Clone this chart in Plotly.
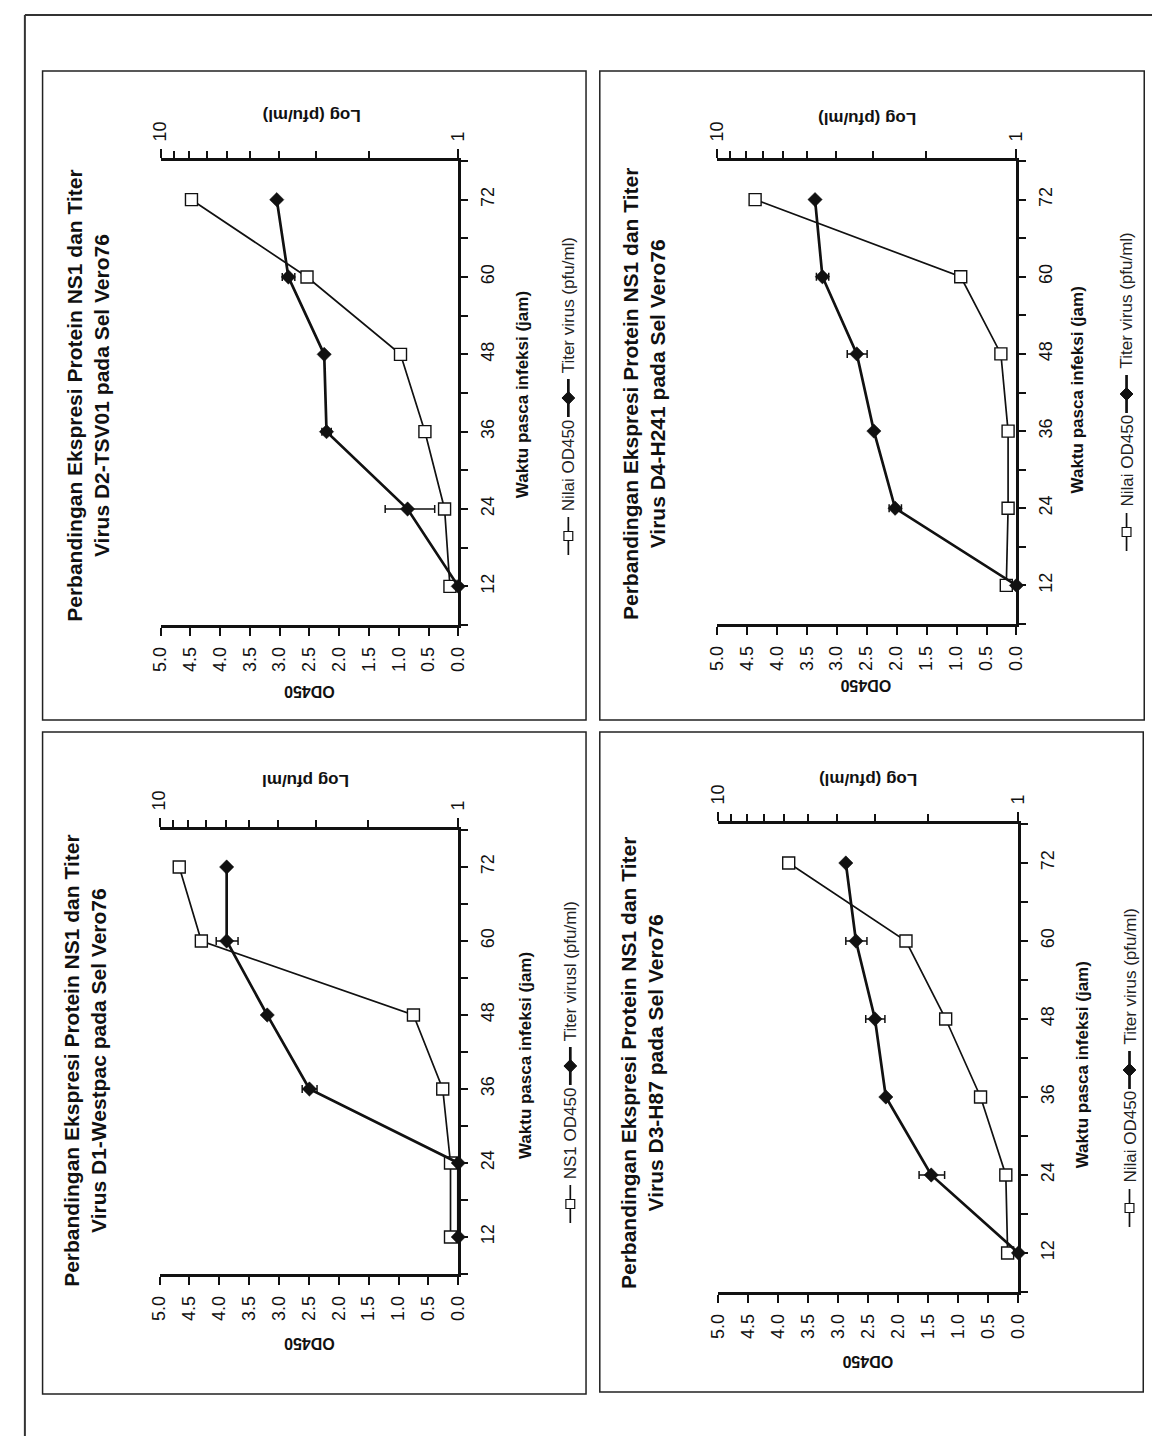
import plotly.graph_objects as go

W, H = 1160, 1436

# ---------------- data ----------------
times = [12, 24, 36, 48, 60, 72]
od_ticks = [0.0, 0.5, 1.0, 1.5, 2.0, 2.5, 3.0, 3.5, 4.0, 4.5, 5.0]
od_ticktext = ["0.0", "0.5", "1.0", "1.5", "2.0", "2.5", "3.0", "3.5", "4.0", "4.5", "5.0"]
time_ticks = [12, 24, 36, 48, 60, 72]
log_ticks = [1, 10]
log_ticktext = ["1", "10"]
log_minor = [2, 3, 4, 5, 6, 7, 8, 9]

titles = [
    "Perbandingan Ekspresi Protein NS1 dan Titer<br>Virus D2-TSV01 pada Sel Vero76",
    "Perbandingan Ekspresi Protein NS1 dan Titer<br>Virus D4-H241 pada Sel Vero76",
    "Perbandingan Ekspresi Protein NS1 dan Titer<br>Virus D1-Westpac pada Sel Vero76",
    "Perbandingan Ekspresi Protein NS1 dan Titer<br>Virus D3-H87 pada Sel Vero76",
]
ns1_names = ["Nilai OD450", "Nilai OD450", "NS1 OD450", "Nilai OD450"]
titer_names = ["Titer virus (pfu/ml)", "Titer virus (pfu/ml)", "Titer virusl (pfu/ml)", "Titer virus (pfu/ml)"]
log_titles = ["Log (pfu/ml)", "Log (pfu/ml)", "Log pfu/ml", "Log (pfu/ml)"]
x_title = "Waktu pasca infeksi (jam)"
od_title = "OD450"

ns1_d2 = [0.14, 0.23, 0.56, 0.97, 2.54, 4.48]
titer_d2 = [1.0, 1.48, 2.77, 2.82, 3.72, 4.07]
err_d2 = [0, 0.28, 0.10, 0, 0.18, 0]

ns1_d4 = [0.17, 0.14, 0.14, 0.26, 0.93, 4.36]
titer_d4 = [1.0, 2.54, 2.99, 3.41, 4.44, 4.70]
err_d4 = [0, 0.12, 0, 0.26, 0.21, 0]

ns1_d1 = [0.13, 0.13, 0.26, 0.75, 4.30, 4.67]
titer_d1 = [1.0, 1.0, 3.15, 4.36, 5.96, 5.96]
err_d1 = [0, 0, 0.18, 0, 0.50, 0]

ns1_d3 = [0.18, 0.21, 0.63, 1.21, 1.87, 3.82]
titer_d3 = [1.0, 1.95, 2.76, 3.00, 3.47, 3.75]
err_d3 = [0, 0.19, 0, 0.22, 0.28, 0]

ns1_all = [ns1_d2, ns1_d4, ns1_d1, ns1_d3]
titer_all = [titer_d2, titer_d4, titer_d1, titer_d3]
err_all = [err_d2, err_d4, err_d1, err_d3]

# ---------------- layout geometry (pixels) ----------------
geo = [
    dict(box=(25, 63, 578, 712), x0=145, x1=448, yt=153, yb=617, title=(71, 388), xt=(514, 387),
         odt=(296, 684), lgt=(299, 107), leg=(560, 547)),
    dict(box=(592, 63, 1146, 712), x0=711, x1=1016, yt=153, yb=616, title=(637, 386), xt=(1078, 382),
         odt=(863, 678), lgt=(864, 110), leg=(1128, 543)),
    dict(box=(25, 724, 578, 1386), x0=144, x1=448, yt=822, yb=1266, title=(68, 1053), xt=(516, 1048),
         odt=(296, 1336), lgt=(292, 773), leg=(562, 1215)),
    dict(box=(592, 724, 1145, 1384), x0=712, x1=1018, yt=816, yb=1284, title=(635, 1055), xt=(1083, 1057),
         odt=(865, 1354), lgt=(865, 772), leg=(1131, 1219)),
]

FONT = "Arial, Liberation Sans, sans-serif"


def px(x):
    return x / W


def py(y):
    return 1 - y / H


fig = go.Figure()
shapes = []
annotations = []
layout = {}

for i in range(4):
    g = geo[i]
    k = i + 1
    kl = i + 5
    xname = "x" if k == 1 else f"x{k}"
    yname = "y" if k == 1 else f"y{k}"
    xlname = f"x{kl}"

    fig.add_trace(go.Scatter(
        x=ns1_all[i], y=times, xaxis=xname, yaxis=yname, mode="lines+markers",
        line=dict(color="#111", width=1.7),
        marker=dict(symbol="square", size=12, color="white", line=dict(color="#111", width=1.4)),
        cliponaxis=False, showlegend=False, name=ns1_names[i]))
    fig.add_trace(go.Scatter(
        x=titer_all[i], y=times, xaxis=xlname, yaxis=yname, mode="lines+markers",
        line=dict(color="#111", width=2.7),
        marker=dict(symbol="diamond", size=11, color="#111", line=dict(color="#111", width=0.5)),
        error_x=dict(type="data", array=err_all[i], visible=True, thickness=1.5, width=4, color="#111"),
        cliponaxis=False, showlegend=False, name=titer_names[i]))

    common = dict(showgrid=False, zeroline=False, showline=True, linewidth=2.6, linecolor="#111",
                  ticks="outside", tickwidth=2.4, tickcolor="#111", fixedrange=True,
                  tickfont=dict(family=FONT, size=18, color="#111"))
    layout["xaxis" if k == 1 else f"xaxis{k}"] = dict(
        common, domain=[px(g["x0"]), px(g["x1"])], anchor=yname, range=[5, 0], side="bottom",
        tickmode="array", tickvals=od_ticks, ticktext=od_ticktext, tickangle=-90, ticklen=8,
        ticklabelstandoff=4)
    layout["yaxis" if k == 1 else f"yaxis{k}"] = dict(
        common, domain=[py(g["yb"]), py(g["yt"])], anchor=xname, side="right", range=[6, 78],
        tickmode="array", tickvals=time_ticks, tickangle=-90, ticklen=7,
        minor=dict(tickmode="linear", tick0=6, dtick=12, ticks="outside", ticklen=7, tickwidth=2.4,
                   tickcolor="#111"),
        ticklabelstandoff=4)
    layout[f"xaxis{kl}"] = dict(
        common, overlaying=xname, anchor=yname, side="top", type="log", range=[1, 0],
        tickmode="array", tickvals=log_ticks, ticktext=log_ticktext, tickangle=-90, ticklen=9,
        minor=dict(tickmode="array", tickvals=log_minor, ticks="outside", ticklen=7, tickwidth=2.4,
                   tickcolor="#111"),
        ticklabelstandoff=4)

    # panel box
    bx0, by0, bx1, by1 = g["box"]
    shapes.append(dict(type="rect", xref="paper", yref="paper", x0=px(bx0), x1=px(bx1), y0=py(by1), y1=py(by0),
                       line=dict(color="#222", width=1.5), layer="above"))

    # texts
    annotations.append(dict(text=f"<b>{titles[i]}</b>", x=px(g["title"][0]), y=py(g["title"][1]),
                            xref="paper", yref="paper", showarrow=False, textangle=-90,
                            xanchor="center", yanchor="middle",
                            font=dict(family=FONT, size=21, color="#111")))
    annotations.append(dict(text=f"<b>{x_title}</b>", x=px(g["xt"][0]), y=py(g["xt"][1]),
                            xref="paper", yref="paper", showarrow=False, textangle=-90,
                            xanchor="center", yanchor="middle",
                            font=dict(family=FONT, size=17, color="#111")))
    annotations.append(dict(text=f"<b>{od_title}</b>", x=px(g["odt"][0]), y=py(g["odt"][1]),
                            xref="paper", yref="paper", showarrow=False, textangle=180,
                            xanchor="center", yanchor="middle",
                            font=dict(family=FONT, size=16, color="#111")))
    annotations.append(dict(text=f"<b>{log_titles[i]}</b>", x=px(g["lgt"][0]), y=py(g["lgt"][1]),
                            xref="paper", yref="paper", showarrow=False, textangle=180,
                            xanchor="center", yanchor="middle",
                            font=dict(family=FONT, size=17, color="#111")))

    # legend (drawn rotated)
    lx, lb = g["leg"]
    shapes.append(dict(type="line", xref="paper", yref="paper", x0=px(lx), x1=px(lx), y0=py(lb), y1=py(lb - 38),
                       line=dict(color="#111", width=1.7)))
    s = 4.5
    shapes.append(dict(type="rect", xref="paper", yref="paper", x0=px(lx - s), x1=px(lx + s),
                       y0=py(lb - 19 + s), y1=py(lb - 19 - s), fillcolor="white",
                       line=dict(color="#111", width=1.2)))
    annotations.append(dict(text=ns1_names[i], x=px(lx), y=py(lb - 42), xref="paper", yref="paper",
                            showarrow=False, textangle=-90, xanchor="center", yanchor="bottom",
                            font=dict(family=FONT, size=17, color="#222")))
    s2 = lb - 138
    shapes.append(dict(type="line", xref="paper", yref="paper", x0=px(lx), x1=px(lx), y0=py(s2), y1=py(s2 - 38),
                       line=dict(color="#111", width=2.7)))
    d = 6.5
    cy = s2 - 19
    path = (f"M {px(lx)} {py(cy - d)} L {px(lx + d)} {py(cy)} L {px(lx)} {py(cy + d)} "
            f"L {px(lx - d)} {py(cy)} Z")
    shapes.append(dict(type="path", xref="paper", yref="paper", path=path, fillcolor="#111",
                       line=dict(color="#111", width=1)))
    annotations.append(dict(text=titer_names[i], x=px(lx), y=py(s2 - 42), xref="paper", yref="paper",
                            showarrow=False, textangle=-90, xanchor="center", yanchor="bottom",
                            font=dict(family=FONT, size=17, color="#222")))

# page border (left and top)
shapes.append(dict(type="line", xref="paper", yref="paper", x0=px(7), x1=px(7), y0=0, y1=py(7),
                   line=dict(color="#333", width=2)))
shapes.append(dict(type="line", xref="paper", yref="paper", x0=px(7), x1=1, y0=py(7), y1=py(7),
                   line=dict(color="#333", width=2)))

fig.update_layout(
    width=W, height=H, margin=dict(l=0, r=0, t=0, b=0),
    paper_bgcolor="white", plot_bgcolor="rgba(0,0,0,0)",
    shapes=shapes, annotations=annotations, showlegend=False,
    font=dict(family=FONT, color="#111"),
    **layout,
)

fig.write_html("out.html")
